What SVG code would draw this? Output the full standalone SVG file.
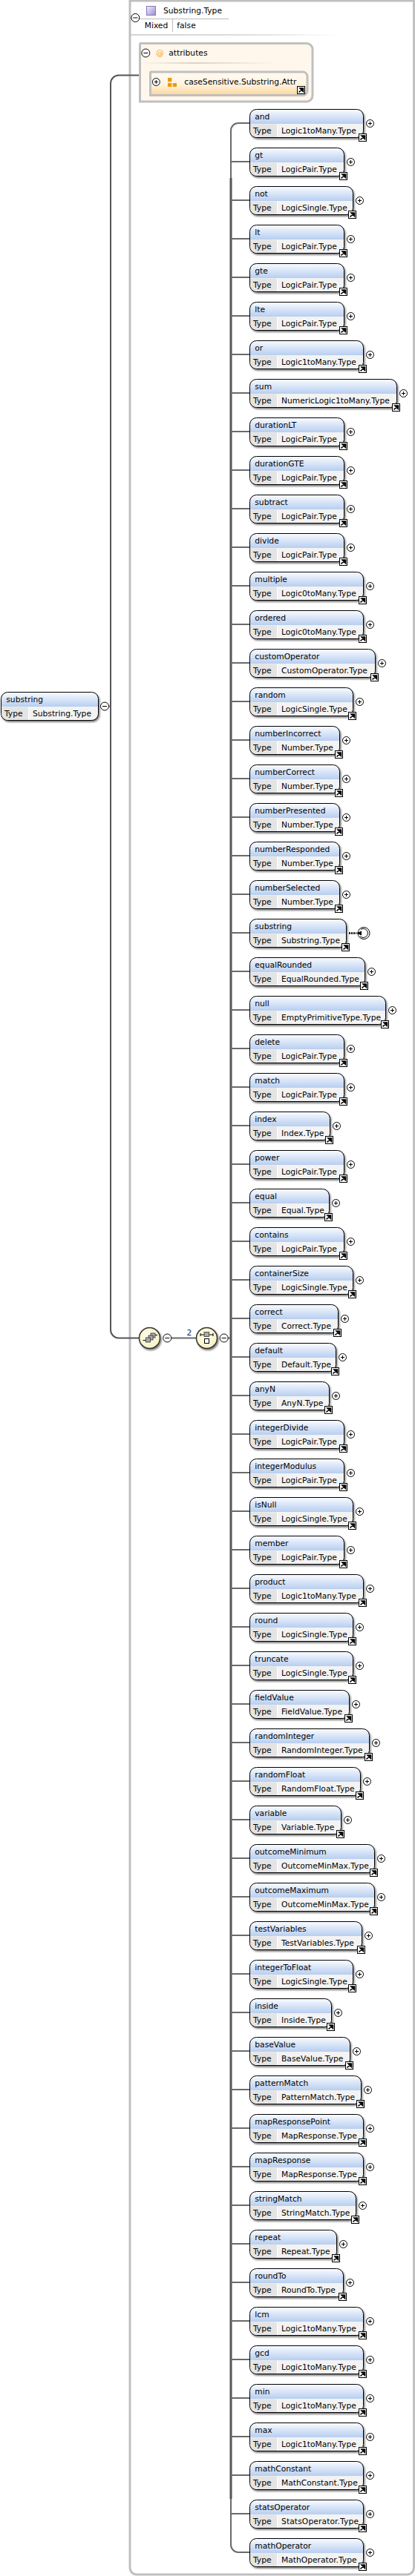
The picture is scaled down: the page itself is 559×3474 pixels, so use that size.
<svg xmlns="http://www.w3.org/2000/svg" width="559" height="3474" viewBox="0 0 559 3474">
<style>
text{font-family:"DejaVu Sans","Liberation Sans",sans-serif;font-size:10.7px;fill:#000}
.b{x:.5px;y:.5px;height:38px;rx:9px;ry:9px;fill:url(#gh);stroke:#000;stroke-width:1;filter:url(#sh)}
#cn path{fill:none;stroke:#6a6a6a;stroke-width:2}
#cn path.bus{stroke:#555;stroke-width:3}
.cir{fill:#fff;stroke:#000;stroke-width:1}
.comp{fill:url(#gc);stroke:#333;stroke-width:1.5;filter:url(#sh)}
.fr{fill:none;stroke:#c0c0c0;stroke-width:3}
.sq{fill:#aaa;stroke:#333;stroke-width:.8}
.or{fill:#f09a00}
</style>
<defs>
<linearGradient id="gh" x1="0" y1="0" x2="0" y2="1"><stop offset="0" stop-color="#fbfdff"/><stop offset=".2" stop-color="#dfe9f9"/><stop offset=".52" stop-color="#b7cef0"/><stop offset=".525" stop-color="#f3f3f3"/><stop offset="1" stop-color="#f3f3f3"/></linearGradient>
<radialGradient id="gc" cx=".45" cy=".4" r=".65"><stop offset="0" stop-color="#fffef0"/><stop offset="1" stop-color="#f6f1bd"/></radialGradient>
<linearGradient id="gi" x1="0" y1="0" x2="0" y2="1"><stop offset="0" stop-color="#fffaf2"/><stop offset=".5" stop-color="#fff5e3"/><stop offset="1" stop-color="#fdd79a"/></linearGradient>
<linearGradient id="gs" x1="0" y1="0" x2="1" y2="0"><stop offset="0" stop-color="#d4d4d4"/><stop offset=".55" stop-color="#ddd"/><stop offset="1" stop-color="#fff"/></linearGradient>
<linearGradient id="ga" x1="0" y1="0" x2="1" y2="0"><stop offset="0" stop-color="#fff5e8"/><stop offset=".4" stop-color="#d8d2c8"/><stop offset="1" stop-color="#fff5e8"/></linearGradient>
<linearGradient id="gp" x1="0" y1="0" x2="1" y2="1"><stop offset="0" stop-color="#f4f0fb"/><stop offset="1" stop-color="#9b8ccb"/></linearGradient>
<filter id="sh" x="-10%" y="-15%" width="125%" height="140%"><feDropShadow dx="1.5" dy="2" stdDeviation="1" flood-color="#000" flood-opacity=".5"/></filter>
<g id="c"><path d="M1 20.500H37V38H10a9 9 0 0 1-9-9z" fill="#e4e4e4"/><path d="M37.500 20.500V38" stroke="#fff"/></g>
<g id="l"><rect x=".5" y="33.500" width="10" height="10" fill="#fff" stroke="#000"/><path d="M2.500 41.500l4.500-4.500M4 36h4.500v4.500z" stroke="#000" stroke-width="1.600" fill="#000"/></g>
<g id="p"><circle class="cir" cx=".5" cy="19.500" r="5"/><path d="M-2 19.500h5M.5 17v5" stroke="#000"/></g>
<g id="m"><circle class="cir" r="5.500"/><path d="M-3 0h6" stroke="#000"/></g>
</defs>
<path class="fr" d="M175 1H557.500V3463a9 9 0 0 1-9 9H184a9 9 0 0 1-9-9z"/>
<g id="cn">
<path d="M188 101.500H160a11 11 0 0 0-11 11V1793.500a11 11 0 0 0 11 11H188" style="stroke:#555"/>
<path d="M146 952.500h3"/>
<path d="M231 1804.500h33"/>
<path d="M307 1804.500h3"/>
<path d="M336 166H321a10 10 0 0 0-10 10V3432a10 10 0 0 0 10 10H336"/>
<path class="bus" d="M311 240V3370"/>
<path d="M311 218h25"/><path d="M311 270h25"/><path d="M311 322h25"/><path d="M311 374h25"/><path d="M311 426h25"/><path d="M311 478h25"/><path d="M311 530h25"/><path d="M311 582h25"/><path d="M311 634h25"/><path d="M311 686h25"/><path d="M311 738h25"/><path d="M311 790h25"/><path d="M311 842h25"/><path d="M311 894h25"/><path d="M311 946h25"/><path d="M311 998h25"/><path d="M311 1050h25"/><path d="M311 1102h25"/><path d="M311 1154h25"/><path d="M311 1206h25"/><path d="M311 1258h25"/><path d="M311 1310h25"/><path d="M311 1362h25"/><path d="M311 1414h25"/><path d="M311 1466h25"/><path d="M311 1518h25"/><path d="M311 1570h25"/><path d="M311 1622h25"/><path d="M311 1674h25"/><path d="M311 1726h25"/><path d="M311 1778h25"/><path d="M311 1830h25"/><path d="M311 1882h25"/><path d="M311 1934h25"/><path d="M311 1986h25"/><path d="M311 2038h25"/><path d="M311 2090h25"/><path d="M311 2142h25"/><path d="M311 2194h25"/><path d="M311 2246h25"/><path d="M311 2298h25"/><path d="M311 2350h25"/><path d="M311 2402h25"/><path d="M311 2454h25"/><path d="M311 2506h25"/><path d="M311 2558h25"/><path d="M311 2610h25"/><path d="M311 2662h25"/><path d="M311 2714h25"/><path d="M311 2766h25"/><path d="M311 2818h25"/><path d="M311 2870h25"/><path d="M311 2922h25"/><path d="M311 2974h25"/><path d="M311 3026h25"/><path d="M311 3078h25"/><path d="M311 3130h25"/><path d="M311 3182h25"/><path d="M311 3234h25"/><path d="M311 3286h25"/><path d="M311 3338h25"/><path d="M311 3390h25"/>
</g>
<g id="type-header">
<rect x="197.500" y="8.500" width="12" height="12" fill="url(#gp)" stroke="#8577bd"/>
<text x="220" y="18.300">Substring.Type</text>
<path d="M184 25.500H308M232.500 26V43" stroke="#bbb" fill="none"/>
<use href="#m" x="182.300" y="24"/>
<text x="194.700" y="38">Mixed</text>
<text x="238.300" y="38">false</text>
<rect x="176" y="46" width="280" height="2" fill="url(#gs)"/>
</g>
<g id="attributes">
<path d="M189 58.500H413a8 8 0 0 1 8 8V129a8 8 0 0 1-8 8H188.500V60z" fill="#fff7ec" stroke="#c0c0c0" stroke-width="3"/>
<use href="#m" x="196.300" y="71.500"/>
<text x="210" y="75" style="fill:#f0a040">@</text>
<text x="227.300" y="75">attributes</text>
<rect x="193" y="84" width="175" height="2" fill="url(#ga)"/>
<g id="caseSensitive">
<path d="M203 97H408a6 6 0 0 1 6 6V122.500a6 6 0 0 1-6 6H202.500V98z" fill="url(#gi)" stroke="#c0c0c0" stroke-width="3"/>
<use href="#p" x="209.800" y="91"/>
<rect class="or" x="226" y="105" width="5.300" height="5.300"/><rect class="or" x="226" y="112" width="5.300" height="5"/><rect class="or" x="232.700" y="112" width="5.300" height="5"/>
<text x="248.300" y="114">caseSensitive.Substring.Attr</text>
<use href="#l" x="400" y="83"/>
</g>
</g>
<g id="substring-root" transform="translate(1,933)"><rect class="b" width="131"/><use href="#c"/><text x="7.300" y="14">substring</text><text x="5" y="33">Type</text><text x="43" y="33">Substring.Type</text><use href="#m" x="140" y="19.500"/></g>
<g id="sequence">
<circle class="comp" cx="201.500" cy="1804.500" r="14"/>
<path d="M192.500 1807.500h4M209 1800.500h3" stroke="#000"/>
<rect class="sq" x="203" y="1798" width="6" height="6"/><rect class="sq" x="200" y="1801" width="6" height="6"/><rect class="sq" x="196.500" y="1804" width="6" height="6"/>
</g>
<use href="#m" x="225.300" y="1804.500"/>
<g id="choice">
<circle class="comp" cx="278.500" cy="1804.500" r="14"/>
<path d="M270 1800h17" stroke="#000"/><path d="M270 1798v4M287 1798v4" stroke="#000"/>
<rect class="sq" x="275" y="1796.500" width="6.500" height="6"/>
<rect x="275.500" y="1805.500" width="6" height="6" fill="#fff" stroke="#000"/>
<text x="255" y="1801" text-anchor="middle" style="fill:#102050">2</text>
</g>
<use href="#m" x="301.700" y="1804.500"/>
<g id="n-and" transform="translate(336,147)"><rect class="b" width="153"/><use href="#c"/><text x="7.300" y="14">and</text><text x="5" y="33">Type</text><text x="43" y="33">Logic1toMany.Type</text><use href="#l" x="147"/><use href="#p" x="162"/></g>
<g id="n-gt" transform="translate(336,199)"><rect class="b" width="127"/><use href="#c"/><text x="7.300" y="14">gt</text><text x="5" y="33">Type</text><text x="43" y="33">LogicPair.Type</text><use href="#l" x="121"/><use href="#p" x="136"/></g>
<g id="n-not" transform="translate(336,251)"><rect class="b" width="139"/><use href="#c"/><text x="7.300" y="14">not</text><text x="5" y="33">Type</text><text x="43" y="33">LogicSingle.Type</text><use href="#l" x="133"/><use href="#p" x="148"/></g>
<g id="n-lt" transform="translate(336,303)"><rect class="b" width="127"/><use href="#c"/><text x="7.300" y="14">lt</text><text x="5" y="33">Type</text><text x="43" y="33">LogicPair.Type</text><use href="#l" x="121"/><use href="#p" x="136"/></g>
<g id="n-gte" transform="translate(336,355)"><rect class="b" width="127"/><use href="#c"/><text x="7.300" y="14">gte</text><text x="5" y="33">Type</text><text x="43" y="33">LogicPair.Type</text><use href="#l" x="121"/><use href="#p" x="136"/></g>
<g id="n-lte" transform="translate(336,407)"><rect class="b" width="127"/><use href="#c"/><text x="7.300" y="14">lte</text><text x="5" y="33">Type</text><text x="43" y="33">LogicPair.Type</text><use href="#l" x="121"/><use href="#p" x="136"/></g>
<g id="n-or" transform="translate(336,459)"><rect class="b" width="153"/><use href="#c"/><text x="7.300" y="14">or</text><text x="5" y="33">Type</text><text x="43" y="33">Logic1toMany.Type</text><use href="#l" x="147"/><use href="#p" x="162"/></g>
<g id="n-sum" transform="translate(336,511)"><rect class="b" width="198"/><use href="#c"/><text x="7.300" y="14">sum</text><text x="5" y="33">Type</text><text x="43" y="33">NumericLogic1toMany.Type</text><use href="#l" x="192"/><use href="#p" x="207"/></g>
<g id="n-durationLT" transform="translate(336,563)"><rect class="b" width="127"/><use href="#c"/><text x="7.300" y="14">durationLT</text><text x="5" y="33">Type</text><text x="43" y="33">LogicPair.Type</text><use href="#l" x="121"/><use href="#p" x="136"/></g>
<g id="n-durationGTE" transform="translate(336,615)"><rect class="b" width="127"/><use href="#c"/><text x="7.300" y="14">durationGTE</text><text x="5" y="33">Type</text><text x="43" y="33">LogicPair.Type</text><use href="#l" x="121"/><use href="#p" x="136"/></g>
<g id="n-subtract" transform="translate(336,667)"><rect class="b" width="127"/><use href="#c"/><text x="7.300" y="14">subtract</text><text x="5" y="33">Type</text><text x="43" y="33">LogicPair.Type</text><use href="#l" x="121"/><use href="#p" x="136"/></g>
<g id="n-divide" transform="translate(336,719)"><rect class="b" width="127"/><use href="#c"/><text x="7.300" y="14">divide</text><text x="5" y="33">Type</text><text x="43" y="33">LogicPair.Type</text><use href="#l" x="121"/><use href="#p" x="136"/></g>
<g id="n-multiple" transform="translate(336,771)"><rect class="b" width="153"/><use href="#c"/><text x="7.300" y="14">multiple</text><text x="5" y="33">Type</text><text x="43" y="33">Logic0toMany.Type</text><use href="#l" x="147"/><use href="#p" x="162"/></g>
<g id="n-ordered" transform="translate(336,823)"><rect class="b" width="153"/><use href="#c"/><text x="7.300" y="14">ordered</text><text x="5" y="33">Type</text><text x="43" y="33">Logic0toMany.Type</text><use href="#l" x="147"/><use href="#p" x="162"/></g>
<g id="n-customOperator" transform="translate(336,875)"><rect class="b" width="169"/><use href="#c"/><text x="7.300" y="14">customOperator</text><text x="5" y="33">Type</text><text x="43" y="33">CustomOperator.Type</text><use href="#l" x="163"/><use href="#p" x="178"/></g>
<g id="n-random" transform="translate(336,927)"><rect class="b" width="139"/><use href="#c"/><text x="7.300" y="14">random</text><text x="5" y="33">Type</text><text x="43" y="33">LogicSingle.Type</text><use href="#l" x="133"/><use href="#p" x="148"/></g>
<g id="n-numberIncorrect" transform="translate(336,979)"><rect class="b" width="121"/><use href="#c"/><text x="7.300" y="14">numberIncorrect</text><text x="5" y="33">Type</text><text x="43" y="33">Number.Type</text><use href="#l" x="115"/><use href="#p" x="130"/></g>
<g id="n-numberCorrect" transform="translate(336,1031)"><rect class="b" width="121"/><use href="#c"/><text x="7.300" y="14">numberCorrect</text><text x="5" y="33">Type</text><text x="43" y="33">Number.Type</text><use href="#l" x="115"/><use href="#p" x="130"/></g>
<g id="n-numberPresented" transform="translate(336,1083)"><rect class="b" width="121"/><use href="#c"/><text x="7.300" y="14">numberPresented</text><text x="5" y="33">Type</text><text x="43" y="33">Number.Type</text><use href="#l" x="115"/><use href="#p" x="130"/></g>
<g id="n-numberResponded" transform="translate(336,1135)"><rect class="b" width="121"/><use href="#c"/><text x="7.300" y="14">numberResponded</text><text x="5" y="33">Type</text><text x="43" y="33">Number.Type</text><use href="#l" x="115"/><use href="#p" x="130"/></g>
<g id="n-numberSelected" transform="translate(336,1187)"><rect class="b" width="121"/><use href="#c"/><text x="7.300" y="14">numberSelected</text><text x="5" y="33">Type</text><text x="43" y="33">Number.Type</text><use href="#l" x="115"/><use href="#p" x="130"/></g>
<g id="n-substring" transform="translate(336,1239)"><rect class="b" width="130"/><use href="#c"/><text x="7.300" y="14">substring</text><text x="5" y="33">Type</text><text x="43" y="33">Substring.Type</text><use href="#l" x="124"/>
<path d="M134 19.500h10" stroke="#000" stroke-width="2.500" stroke-dasharray="2 1" fill="none"/><circle cx="154" cy="19.500" r="8" fill="#fff" stroke="#000"/><path d="M150 14.500a6 6 0 1 1-1 9" fill="none" stroke="#000"/><path d="M144 19.500l7-3v6z" fill="#000"/></g>
<g id="n-equalRounded" transform="translate(336,1291)"><rect class="b" width="155"/><use href="#c"/><text x="7.300" y="14">equalRounded</text><text x="5" y="33">Type</text><text x="43" y="33">EqualRounded.Type</text><use href="#l" x="149"/><use href="#p" x="164"/></g>
<g id="n-null" transform="translate(336,1343)"><rect class="b" width="183"/><use href="#c"/><text x="7.300" y="14">null</text><text x="5" y="33">Type</text><text x="43" y="33">EmptyPrimitiveType.Type</text><use href="#l" x="177"/><use href="#p" x="192"/></g>
<g id="n-delete" transform="translate(336,1395)"><rect class="b" width="127"/><use href="#c"/><text x="7.300" y="14">delete</text><text x="5" y="33">Type</text><text x="43" y="33">LogicPair.Type</text><use href="#l" x="121"/><use href="#p" x="136"/></g>
<g id="n-match" transform="translate(336,1447)"><rect class="b" width="127"/><use href="#c"/><text x="7.300" y="14">match</text><text x="5" y="33">Type</text><text x="43" y="33">LogicPair.Type</text><use href="#l" x="121"/><use href="#p" x="136"/></g>
<g id="n-index" transform="translate(336,1499)"><rect class="b" width="108"/><use href="#c"/><text x="7.300" y="14">index</text><text x="5" y="33">Type</text><text x="43" y="33">Index.Type</text><use href="#l" x="102"/><use href="#p" x="117"/></g>
<g id="n-power" transform="translate(336,1551)"><rect class="b" width="127"/><use href="#c"/><text x="7.300" y="14">power</text><text x="5" y="33">Type</text><text x="43" y="33">LogicPair.Type</text><use href="#l" x="121"/><use href="#p" x="136"/></g>
<g id="n-equal" transform="translate(336,1603)"><rect class="b" width="107"/><use href="#c"/><text x="7.300" y="14">equal</text><text x="5" y="33">Type</text><text x="43" y="33">Equal.Type</text><use href="#l" x="101"/><use href="#p" x="116"/></g>
<g id="n-contains" transform="translate(336,1655)"><rect class="b" width="127"/><use href="#c"/><text x="7.300" y="14">contains</text><text x="5" y="33">Type</text><text x="43" y="33">LogicPair.Type</text><use href="#l" x="121"/><use href="#p" x="136"/></g>
<g id="n-containerSize" transform="translate(336,1707)"><rect class="b" width="139"/><use href="#c"/><text x="7.300" y="14">containerSize</text><text x="5" y="33">Type</text><text x="43" y="33">LogicSingle.Type</text><use href="#l" x="133"/><use href="#p" x="148"/></g>
<g id="n-correct" transform="translate(336,1759)"><rect class="b" width="119"/><use href="#c"/><text x="7.300" y="14">correct</text><text x="5" y="33">Type</text><text x="43" y="33">Correct.Type</text><use href="#l" x="113"/><use href="#p" x="128"/></g>
<g id="n-default" transform="translate(336,1811)"><rect class="b" width="116"/><use href="#c"/><text x="7.300" y="14">default</text><text x="5" y="33">Type</text><text x="43" y="33">Default.Type</text><use href="#l" x="110"/><use href="#p" x="125"/></g>
<g id="n-anyN" transform="translate(336,1863)"><rect class="b" width="107"/><use href="#c"/><text x="7.300" y="14">anyN</text><text x="5" y="33">Type</text><text x="43" y="33">AnyN.Type</text><use href="#l" x="101"/><use href="#p" x="116"/></g>
<g id="n-integerDivide" transform="translate(336,1915)"><rect class="b" width="127"/><use href="#c"/><text x="7.300" y="14">integerDivide</text><text x="5" y="33">Type</text><text x="43" y="33">LogicPair.Type</text><use href="#l" x="121"/><use href="#p" x="136"/></g>
<g id="n-integerModulus" transform="translate(336,1967)"><rect class="b" width="127"/><use href="#c"/><text x="7.300" y="14">integerModulus</text><text x="5" y="33">Type</text><text x="43" y="33">LogicPair.Type</text><use href="#l" x="121"/><use href="#p" x="136"/></g>
<g id="n-isNull" transform="translate(336,2019)"><rect class="b" width="139"/><use href="#c"/><text x="7.300" y="14">isNull</text><text x="5" y="33">Type</text><text x="43" y="33">LogicSingle.Type</text><use href="#l" x="133"/><use href="#p" x="148"/></g>
<g id="n-member" transform="translate(336,2071)"><rect class="b" width="127"/><use href="#c"/><text x="7.300" y="14">member</text><text x="5" y="33">Type</text><text x="43" y="33">LogicPair.Type</text><use href="#l" x="121"/><use href="#p" x="136"/></g>
<g id="n-product" transform="translate(336,2123)"><rect class="b" width="153"/><use href="#c"/><text x="7.300" y="14">product</text><text x="5" y="33">Type</text><text x="43" y="33">Logic1toMany.Type</text><use href="#l" x="147"/><use href="#p" x="162"/></g>
<g id="n-round" transform="translate(336,2175)"><rect class="b" width="139"/><use href="#c"/><text x="7.300" y="14">round</text><text x="5" y="33">Type</text><text x="43" y="33">LogicSingle.Type</text><use href="#l" x="133"/><use href="#p" x="148"/></g>
<g id="n-truncate" transform="translate(336,2227)"><rect class="b" width="139"/><use href="#c"/><text x="7.300" y="14">truncate</text><text x="5" y="33">Type</text><text x="43" y="33">LogicSingle.Type</text><use href="#l" x="133"/><use href="#p" x="148"/></g>
<g id="n-fieldValue" transform="translate(336,2279)"><rect class="b" width="134"/><use href="#c"/><text x="7.300" y="14">fieldValue</text><text x="5" y="33">Type</text><text x="43" y="33">FieldValue.Type</text><use href="#l" x="128"/><use href="#p" x="143"/></g>
<g id="n-randomInteger" transform="translate(336,2331)"><rect class="b" width="161"/><use href="#c"/><text x="7.300" y="14">randomInteger</text><text x="5" y="33">Type</text><text x="43" y="33">RandomInteger.Type</text><use href="#l" x="155"/><use href="#p" x="170"/></g>
<g id="n-randomFloat" transform="translate(336,2383)"><rect class="b" width="149"/><use href="#c"/><text x="7.300" y="14">randomFloat</text><text x="5" y="33">Type</text><text x="43" y="33">RandomFloat.Type</text><use href="#l" x="143"/><use href="#p" x="158"/></g>
<g id="n-variable" transform="translate(336,2435)"><rect class="b" width="123"/><use href="#c"/><text x="7.300" y="14">variable</text><text x="5" y="33">Type</text><text x="43" y="33">Variable.Type</text><use href="#l" x="117"/><use href="#p" x="132"/></g>
<g id="n-outcomeMinimum" transform="translate(336,2487)"><rect class="b" width="168"/><use href="#c"/><text x="7.300" y="14">outcomeMinimum</text><text x="5" y="33">Type</text><text x="43" y="33">OutcomeMinMax.Type</text><use href="#l" x="162"/><use href="#p" x="177"/></g>
<g id="n-outcomeMaximum" transform="translate(336,2539)"><rect class="b" width="168"/><use href="#c"/><text x="7.300" y="14">outcomeMaximum</text><text x="5" y="33">Type</text><text x="43" y="33">OutcomeMinMax.Type</text><use href="#l" x="162"/><use href="#p" x="177"/></g>
<g id="n-testVariables" transform="translate(336,2591)"><rect class="b" width="151"/><use href="#c"/><text x="7.300" y="14">testVariables</text><text x="5" y="33">Type</text><text x="43" y="33">TestVariables.Type</text><use href="#l" x="145"/><use href="#p" x="160"/></g>
<g id="n-integerToFloat" transform="translate(336,2643)"><rect class="b" width="139"/><use href="#c"/><text x="7.300" y="14">integerToFloat</text><text x="5" y="33">Type</text><text x="43" y="33">LogicSingle.Type</text><use href="#l" x="133"/><use href="#p" x="148"/></g>
<g id="n-inside" transform="translate(336,2695)"><rect class="b" width="110"/><use href="#c"/><text x="7.300" y="14">inside</text><text x="5" y="33">Type</text><text x="43" y="33">Inside.Type</text><use href="#l" x="104"/><use href="#p" x="119"/></g>
<g id="n-baseValue" transform="translate(336,2747)"><rect class="b" width="135"/><use href="#c"/><text x="7.300" y="14">baseValue</text><text x="5" y="33">Type</text><text x="43" y="33">BaseValue.Type</text><use href="#l" x="129"/><use href="#p" x="144"/></g>
<g id="n-patternMatch" transform="translate(336,2799)"><rect class="b" width="150"/><use href="#c"/><text x="7.300" y="14">patternMatch</text><text x="5" y="33">Type</text><text x="43" y="33">PatternMatch.Type</text><use href="#l" x="144"/><use href="#p" x="159"/></g>
<g id="n-mapResponsePoint" transform="translate(336,2851)"><rect class="b" width="153"/><use href="#c"/><text x="7.300" y="14">mapResponsePoint</text><text x="5" y="33">Type</text><text x="43" y="33">MapResponse.Type</text><use href="#l" x="147"/><use href="#p" x="162"/></g>
<g id="n-mapResponse" transform="translate(336,2903)"><rect class="b" width="153"/><use href="#c"/><text x="7.300" y="14">mapResponse</text><text x="5" y="33">Type</text><text x="43" y="33">MapResponse.Type</text><use href="#l" x="147"/><use href="#p" x="162"/></g>
<g id="n-stringMatch" transform="translate(336,2955)"><rect class="b" width="143"/><use href="#c"/><text x="7.300" y="14">stringMatch</text><text x="5" y="33">Type</text><text x="43" y="33">StringMatch.Type</text><use href="#l" x="137"/><use href="#p" x="152"/></g>
<g id="n-repeat" transform="translate(336,3007)"><rect class="b" width="117"/><use href="#c"/><text x="7.300" y="14">repeat</text><text x="5" y="33">Type</text><text x="43" y="33">Repeat.Type</text><use href="#l" x="111"/><use href="#p" x="126"/></g>
<g id="n-roundTo" transform="translate(336,3059)"><rect class="b" width="126"/><use href="#c"/><text x="7.300" y="14">roundTo</text><text x="5" y="33">Type</text><text x="43" y="33">RoundTo.Type</text><use href="#l" x="120"/><use href="#p" x="135"/></g>
<g id="n-lcm" transform="translate(336,3111)"><rect class="b" width="153"/><use href="#c"/><text x="7.300" y="14">lcm</text><text x="5" y="33">Type</text><text x="43" y="33">Logic1toMany.Type</text><use href="#l" x="147"/><use href="#p" x="162"/></g>
<g id="n-gcd" transform="translate(336,3163)"><rect class="b" width="153"/><use href="#c"/><text x="7.300" y="14">gcd</text><text x="5" y="33">Type</text><text x="43" y="33">Logic1toMany.Type</text><use href="#l" x="147"/><use href="#p" x="162"/></g>
<g id="n-min" transform="translate(336,3215)"><rect class="b" width="153"/><use href="#c"/><text x="7.300" y="14">min</text><text x="5" y="33">Type</text><text x="43" y="33">Logic1toMany.Type</text><use href="#l" x="147"/><use href="#p" x="162"/></g>
<g id="n-max" transform="translate(336,3267)"><rect class="b" width="153"/><use href="#c"/><text x="7.300" y="14">max</text><text x="5" y="33">Type</text><text x="43" y="33">Logic1toMany.Type</text><use href="#l" x="147"/><use href="#p" x="162"/></g>
<g id="n-mathConstant" transform="translate(336,3319)"><rect class="b" width="153"/><use href="#c"/><text x="7.300" y="14">mathConstant</text><text x="5" y="33">Type</text><text x="43" y="33">MathConstant.Type</text><use href="#l" x="147"/><use href="#p" x="162"/></g>
<g id="n-statsOperator" transform="translate(336,3371)"><rect class="b" width="153"/><use href="#c"/><text x="7.300" y="14">statsOperator</text><text x="5" y="33">Type</text><text x="43" y="33" textLength="104">StatsOperator.Type</text><use href="#l" x="147"/><use href="#p" x="162"/></g>
<g id="n-mathOperator" transform="translate(336,3423)"><rect class="b" width="153"/><use href="#c"/><text x="7.300" y="14">mathOperator</text><text x="5" y="33">Type</text><text x="43" y="33">MathOperator.Type</text><use href="#l" x="147"/><use href="#p" x="162"/></g>
</svg>
